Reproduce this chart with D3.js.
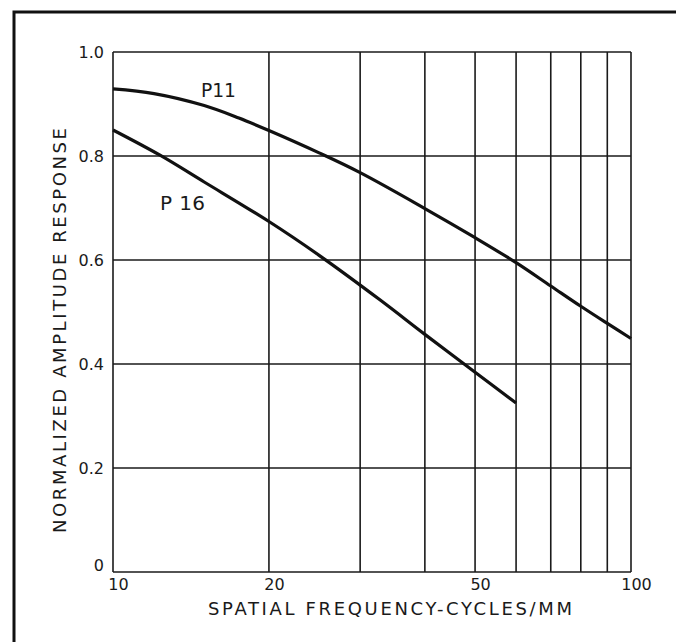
<!DOCTYPE html>
<html>
<head>
<meta charset="utf-8">
<script src="https://cdn.jsdelivr.net/npm/d3@7"></script>
<style>
  html, body { margin: 0; padding: 0; background: #fff; }
  svg { display: block; }
  text { font-family: "DejaVu Sans", sans-serif; fill: #1a1a1a; }
</style>
</head>
<body>
<svg id="chart" width="676" height="642"></svg>
<script>
// ---- data ----
const xTickValues = [10, 20, 50, 100];
const xGridValues = [10, 20, 30, 40, 50, 60, 70, 80, 90, 100];
const yTickValues = [0, 0.2, 0.4, 0.6, 0.8, 1.0];
const yTickLabels = ["0", "0.2", "0.4", "0.6", "0.8", "1.0"];

const p11Freq  = [10, 12, 15, 17.5, 20, 25, 30, 40, 50, 60, 70, 80, 90, 100];
const p11Value = [0.929, 0.920, 0.897, 0.873, 0.849, 0.806, 0.768, 0.699, 0.643, 0.595, 0.550, 0.511, 0.478, 0.449];

const p16Freq  = [10, 12.3, 15, 20, 25, 32.8, 40, 50, 60];
const p16Value = [0.850, 0.802, 0.750, 0.674, 0.609, 0.523, 0.457, 0.384, 0.325];

const seriesLabels = ["P11", "P 16"];
const xTitle = "SPATIAL FREQUENCY-CYCLES/MM";
const yTitle = "NORMALIZED AMPLITUDE RESPONSE";

// ---- layout ----
const svg = d3.select("#chart");
const mLeft = 113, mRight = 631, mTop = 52, mBottom = 572;

const x = d3.scaleLog().domain([10, 100]).range([mLeft, mRight]);
const y = d3.scaleLinear().domain([0, 1]).range([mBottom, mTop]);

// outer frame (top and left edges)
svg.append("path")
  .attr("d", `M14,642 L14,12 L676,12`)
  .attr("fill", "none").attr("stroke", "#111").attr("stroke-width", 3);

// grid
const g = svg.append("g");
g.selectAll("line.vg").data(xGridValues).join("line")
  .attr("x1", d => x(d)).attr("x2", d => x(d))
  .attr("y1", mTop).attr("y2", mBottom)
  .attr("stroke", "#1a1a1a").attr("stroke-width", 1.6);
g.selectAll("line.hg").data(yTickValues).join("line")
  .attr("x1", mLeft).attr("x2", mRight)
  .attr("y1", d => y(d)).attr("y2", d => y(d))
  .attr("stroke", "#1a1a1a").attr("stroke-width", 1.6);

// axes labels via d3 axes (no domain/ticks lines)
const xAxis = d3.axisBottom(x).tickValues(xTickValues).tickFormat(d3.format("d")).tickSize(0).tickPadding(7);
const xa = svg.append("g").attr("transform", `translate(5,${mBottom})`).call(xAxis);
xa.select(".domain").remove();
xa.selectAll("text").attr("font-size", 16).attr("font-family", "DejaVu Sans, sans-serif").attr("fill", "#1a1a1a");

const yAxis = d3.axisLeft(y).tickValues(yTickValues).tickFormat((d, i) => yTickLabels[i]).tickSize(0).tickPadding(9);
const ya = svg.append("g").attr("transform", `translate(${mLeft},0)`).call(yAxis);
ya.select(".domain").remove();
ya.selectAll("text").attr("font-size", 16).attr("font-family", "DejaVu Sans, sans-serif").attr("fill", "#1a1a1a");
ya.selectAll(".tick").filter(d => d === 0).select("text").attr("dy", "-0.1em");

// curves
const line = d3.line().x(d => x(d[0])).y(d => y(d[1])).curve(d3.curveCatmullRom.alpha(0.5));
const p11 = p11Freq.map((f, i) => [f, p11Value[i]]);
const p16 = p16Freq.map((f, i) => [f, p16Value[i]]);
svg.append("path").datum(p11).attr("d", line)
  .attr("fill", "none").attr("stroke", "#111").attr("stroke-width", 3.2);
svg.append("path").datum(p16).attr("d", line)
  .attr("fill", "none").attr("stroke", "#111").attr("stroke-width", 3.2);

// series labels
svg.append("text").attr("x", 201).attr("y", 97)
  .attr("font-size", 20).attr("textLength", 35).attr("lengthAdjust", "spacingAndGlyphs").text(seriesLabels[0]);
svg.append("text").attr("x", 160).attr("y", 210)
  .attr("font-size", 20).attr("textLength", 45).attr("lengthAdjust", "spacing").text(seriesLabels[1]);

// axis titles
svg.append("text").attr("x", 208).attr("y", 615)
  .attr("font-size", 18).attr("textLength", 364).attr("lengthAdjust", "spacing")
  .text(xTitle);
svg.append("text")
  .attr("transform", `translate(66,533) rotate(-90)`)
  .attr("font-size", 18).attr("textLength", 405).attr("lengthAdjust", "spacing")
  .text(yTitle);
</script>
</body>
</html>
